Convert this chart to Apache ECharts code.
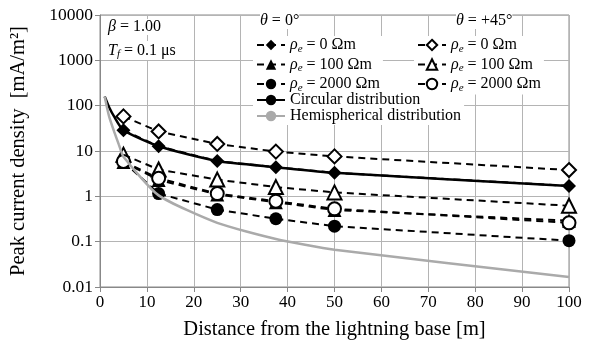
<!DOCTYPE html>
<html><head><meta charset="utf-8">
<script src="https://cdn.jsdelivr.net/npm/echarts@6/dist/echarts.min.js"></script>
<style>html,body{margin:0;padding:0;background:#fff}#c{width:600px;height:345px}</style>
</head><body><div id="c"></div><script>
// ---- data ----
const distances = [5, 12.5, 25, 37.5, 50, 100];
const t0_rho0 = [28.6, 12.7, 6.0, 4.4, 3.3, 1.7];
const t0_rho100 = [5.7, 2.3, 1.1, 0.74, 0.5, 0.29];
const t0_rho2000 = [5.8, 1.15, 0.51, 0.32, 0.22, 0.105];
const t45_rho0 = [58, 27, 14.3, 9.7, 7.6, 3.8];
const t45_rho100 = [8.3, 3.9, 2.34, 1.6, 1.22, 0.62];
const t45_rho2000 = [5.9, 2.5, 1.15, 0.78, 0.53, 0.26];
const circDist = [1, 2, 3, 5, 12.5, 25, 37.5, 50, 100];
const circVals = [160, 90, 58, 28.6, 12.7, 6.0, 4.4, 3.3, 1.7];
const hemiDist = [1, 1.5, 2, 3, 4, 5, 12.5, 25, 37.5, 50, 100];
const hemiVals = [160, 90, 55, 27, 14, 7.5, 1.05, 0.26, 0.115, 0.066, 0.0166];
const xTicks = [0, 10, 20, 30, 40, 50, 60, 70, 80, 90, 100];
const yTickLabels = ['0.01', '0.1', '1', '10', '100', '1000', '10000'];

const FONT = 'Liberation Serif';
const pair = (xs, ys) => xs.map((x, i) => [x, ys[i]]);
const symSize = {diamond: 14, triangle: 14, circle: 13};
function mk(name, ys, symbol, filled) {
  return {
    name, type: 'line', data: pair(distances, ys),
    symbol, symbolSize: symSize[symbol],
    lineStyle: {color: '#000', width: 2, type: [7, 5]},
    itemStyle: {color: filled ? '#000' : '#fff', borderColor: '#000', borderWidth: filled ? 0 : 2},
    emphasis: {disabled: true}, animation: false, z: 3
  };
}
const labels = {
  a0: '{i|ρ}{s|e} = 0 Ωm', a100: '{i|ρ}{s|e} = 100 Ωm', a2000: '{i|ρ}{s|e} = 2000 Ωm',
  b0: '{i|ρ}{s|e} = 0 Ωm', b100: '{i|ρ}{s|e} = 100 Ωm', b2000: '{i|ρ}{s|e} = 2000 Ωm',
  circ: 'Circular distribution', hemi: 'Hemispherical distribution'
};
const rich = {
  i: {fontFamily: FONT, fontStyle: 'italic', fontSize: 16, color: '#000'},
  s: {fontFamily: FONT, fontStyle: 'italic', fontSize: 11, color: '#000', padding: [8, 0, 0, 0]}
};
const legTS = {fontFamily: FONT, fontSize: 16, color: '#000', rich};
const legBase = {orient: 'vertical', itemGap: 2, itemWidth: 28, itemHeight: 13,
  formatter: n => labels[n], textStyle: legTS, backgroundColor: '#fff', padding: [1, 3], selectedMode: false};

const series = [
  mk('a0', t0_rho0, 'diamond', true),
  mk('a100', t0_rho100, 'triangle', true),
  mk('a2000', t0_rho2000, 'circle', true),
  mk('b0', t45_rho0, 'diamond', false),
  mk('b100', t45_rho100, 'triangle', false),
  mk('b2000', t45_rho2000, 'circle', false),
  {name: 'circ', type: 'line', data: pair(circDist, circVals), showSymbol: false, symbol: 'none',
   smooth: 0.2, lineStyle: {color: '#000', width: 2.5}, itemStyle: {color: '#000'}, z: 4, animation: false},
  {name: 'hemi', type: 'line', data: pair(hemiDist, hemiVals), showSymbol: false, symbol: 'none',
   smooth: 0.2, lineStyle: {color: '#aaa', width: 2.5}, itemStyle: {color: '#aaa'}, z: 5, animation: false}
];
series[5].z = 3.5;

const chart = echarts.init(document.getElementById('c'), null, {renderer: 'canvas'});
const txt = (left, top, text, extraRich) => ({type: 'text', left, top, z: 10, style: {
  rich: Object.assign({i: {fontFamily: FONT, fontStyle: 'italic', fontSize: 16}}, extraRich || {}),
  text, fontFamily: FONT, fontSize: 16, fill: '#000', backgroundColor: '#fff'}});
chart.setOption({
  animation: false,
  grid: {left: 100, right: 31, top: 15, bottom: 58, show: true, borderColor: '#888', borderWidth: 1},
  xAxis: {type: 'value', min: 0, max: 100, interval: 10,
    axisLine: {lineStyle: {color: '#888'}}, axisTick: {show: true, length: 5, lineStyle: {color: '#888'}},
    splitLine: {lineStyle: {color: '#b4b4b4'}},
    axisLabel: {fontFamily: FONT, fontSize: 17, color: '#000', margin: 7,
      formatter: v => String(xTicks[Math.round(v / 10)])},
    name: 'Distance from the lightning base [m]', nameLocation: 'middle', nameGap: 32,
    nameTextStyle: {fontFamily: FONT, fontSize: 20.5, color: '#000'}},
  yAxis: {type: 'log', logBase: 10, min: 0.01, max: 10000,
    axisLine: {show: true, lineStyle: {color: '#888'}}, axisTick: {show: true, length: 5, lineStyle: {color: '#888'}},
    splitLine: {lineStyle: {color: '#b4b4b4'}}, minorTick: {show: false},
    axisLabel: {fontFamily: FONT, fontSize: 17.5, color: '#000', margin: 7,
      formatter: v => yTickLabels[Math.round(Math.log10(v)) + 2]},
    name: 'Peak current density  [mA/m²]', nameLocation: 'middle', nameGap: 71,
    nameTextStyle: {fontFamily: FONT, fontSize: 20.5, color: '#000'}},
  legend: [
    Object.assign({}, legBase, {data: ['a0', 'a100', 'a2000'], left: 253, top: 36}),
    Object.assign({}, legBase, {data: ['b0', 'b100', 'b2000'], left: 414, top: 36}),
    Object.assign({}, legBase, {data: ['circ', 'hemi'], left: 253, top: 91, itemGap: 0})
  ],
  graphic: [
    txt(108, 19, '{i|β} = 1.00'),
    txt(108, 41, '{i|T}{s|f} = 0.1 μs', {s: {fontFamily: FONT, fontStyle: 'italic', fontSize: 11, padding: [8, 0, 0, 0]}}),
    txt(260, 13, '{i|θ} = 0°'),
    txt(456, 13, '{i|θ} = +45°')
  ],
  series
});
</script></body></html>
